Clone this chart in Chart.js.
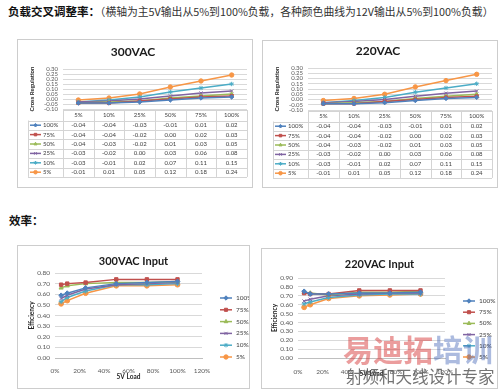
<!DOCTYPE html>
<html><head><meta charset="utf-8">
<script src="https://cdn.jsdelivr.net/npm/chart.js@4.4.0/dist/chart.umd.min.js"></script>
<style>
html,body{margin:0;padding:0;background:#fff;}
body{width:500px;height:391px;position:relative;overflow:hidden;font-family:"Noto Sans CJK SC",sans-serif;}
.box{position:absolute;border:1px solid #cdcdcd;box-sizing:border-box;background:#fff;}
.box canvas{position:absolute;left:0;top:0;}
.hdr{position:absolute;white-space:nowrap;color:#111;line-height:1;}
.wm{position:absolute;white-space:nowrap;line-height:1;z-index:5;}
</style></head><body>
<div class="hdr" style="left:8px;top:6px;font-size:10.8px;"><b style="font-size:11.5px">负载交叉调整率：</b><span style="color:#333">（横轴为主5V输出从5%到100%负载，各种颜色曲线为12V输出从5%到100%负载）</span></div>
<div class="hdr" style="left:9px;top:215px;font-size:11.5px;font-weight:bold">效率：</div>

<div class="box" style="left:17px;top:39px;width:236px;height:149px"><canvas id="c1"></canvas></div>
<div class="box" style="left:262px;top:40px;width:236px;height:148px"><canvas id="c2"></canvas></div>
<div class="box" style="left:17px;top:245px;width:233px;height:144px"><canvas id="c3"></canvas></div>
<div class="box" style="left:261px;top:248px;width:237px;height:141px"><canvas id="c4"></canvas></div>

<div class="wm" style="left:343px;top:333px;font-size:30px;font-weight:bold;"><span style="color:rgba(215,60,60,0.5)">易迪拓</span><span style="color:rgba(70,105,185,0.45)">培训</span></div>
<div class="wm" style="left:346px;top:368px;font-size:16.5px;color:rgba(90,90,90,0.85);">射频和天线设计专家</div>

<script>
// ---------- data ----------
const loadLabels = ['5%','10%','25%','50%','75%','100%'];
const seriesNames = ['100%','75%','50%','25%','10%','5%'];
const effLoadPct = [5,10,25,50,75,100];

const cr300_100 = [-0.04,-0.04,-0.03,-0.01,0.01,0.02];
const cr300_75  = [-0.04,-0.04,-0.02,0.00,0.02,0.03];
const cr300_50  = [-0.04,-0.03,-0.02,0.01,0.03,0.05];
const cr300_25  = [-0.03,-0.02,0.00,0.03,0.06,0.08];
const cr300_10  = [-0.03,-0.01,0.02,0.07,0.11,0.15];
const cr300_5   = [-0.01,0.01,0.05,0.12,0.18,0.24];

const cr220_100 = [-0.04,-0.04,-0.03,-0.01,0.01,0.02];
const cr220_75  = [-0.04,-0.04,-0.02,0.00,0.02,0.03];
const cr220_50  = [-0.04,-0.03,-0.02,0.01,0.03,0.05];
const cr220_25  = [-0.03,-0.02,0.00,0.03,0.06,0.08];
const cr220_10  = [-0.03,-0.01,0.02,0.07,0.11,0.15];
const cr220_5   = [-0.01,0.01,0.05,0.12,0.18,0.24];

const eff300_100 = [0.59,0.61,0.66,0.70,0.71,0.72];
const eff300_75  = [0.69,0.70,0.71,0.74,0.74,0.74];
const eff300_50  = [0.66,0.68,0.70,0.71,0.71,0.72];
const eff300_25  = [0.56,0.59,0.65,0.69,0.70,0.71];
const eff300_10  = [0.53,0.57,0.63,0.69,0.69,0.70];
const eff300_5   = [0.51,0.54,0.61,0.68,0.68,0.69];

const eff220_100 = [0.75,0.72,0.72,0.73,0.73,0.74];
const eff220_75  = [0.73,0.72,0.72,0.76,0.76,0.76];
const eff220_50  = [0.74,0.73,0.71,0.74,0.74,0.75];
const eff220_25  = [0.64,0.66,0.70,0.72,0.73,0.73];
const eff220_10  = [0.61,0.63,0.68,0.71,0.72,0.72];
const eff220_5   = [0.57,0.60,0.67,0.70,0.71,0.72];

// ---------- styles ----------
const seriesColors = ['#4F81BD','#C0504D','#9BBB59','#8064A2','#4BACC6','#F79646'];
const seriesMarkers = ['rectRot','rect','triangle','crossRot','star','circle'];

Chart.defaults.font.family = 'Lato, "Liberation Sans", sans-serif';
Chart.defaults.color = '#595959';

const fmt = v => (Math.abs(v) < 1e-9 ? 0 : v).toFixed(2);

function mkDataset(i, data, r) {
  const c = seriesColors[i];
  return {label: seriesNames[i], data, borderColor: c, backgroundColor: c,
    pointStyle: seriesMarkers[i], pointRadius: r, pointBorderColor: c, pointBackgroundColor: c,
    pointBorderWidth: 1, borderWidth: 1.5, tension: 0};
}

function drawKey(ctx, d, x0, len, y, r) {
  ctx.save();
  ctx.strokeStyle = d.borderColor; ctx.lineWidth = 1.5;
  ctx.beginPath(); ctx.moveTo(x0, y); ctx.lineTo(x0 + len, y); ctx.stroke();
  ctx.fillStyle = d.borderColor; ctx.strokeStyle = d.borderColor; ctx.lineWidth = 1;
  Chart.helpers.drawPoint(ctx, {pointStyle: d.pointStyle, radius: r, rotation: 0, borderWidth: 1}, x0 + len / 2, y);
  ctx.restore();
}

const tablePlugin = {
  id: 'dataTable',
  afterDraw(chart, args, o) {
    const ctx = chart.ctx, xs = chart.scales.x, ca = chart.chartArea;
    const labels = chart.data.labels, ds = chart.data.datasets;
    const n = labels.length, colW = (ca.right - ca.left) / n;
    const top = o.top, bottom = o.top + o.headH + o.rowH * ds.length;
    ctx.save();
    ctx.strokeStyle = '#d4d4d4'; ctx.lineWidth = 1;
    ctx.beginPath();
    for (let i = 0; i <= n; i++) { const x = Math.round(ca.left + i * colW) + 0.5; ctx.moveTo(x, top); ctx.lineTo(x, bottom); }
    const lx = Math.round(o.left) + 0.5;
    ctx.moveTo(lx, top + o.headH); ctx.lineTo(lx, bottom);
    const ty = Math.round(top) + 0.5; ctx.moveTo(ca.left, ty); ctx.lineTo(ca.right, ty);
    for (let r = 0; r <= ds.length; r++) { const y = Math.round(top + o.headH + r * o.rowH) + 0.5; ctx.moveTo(o.left, y); ctx.lineTo(ca.right, y); }
    ctx.stroke();
    ctx.font = '6px Lato, "Liberation Sans", sans-serif';
    ctx.fillStyle = '#404040'; ctx.textAlign = 'center'; ctx.textBaseline = 'middle';
    labels.forEach((l, i) => ctx.fillText(l, xs.getPixelForValue(i), top + o.headH / 2));
    ds.forEach((d, r) => {
      const yc = top + o.headH + r * o.rowH + o.rowH / 2;
      ctx.fillStyle = '#404040'; ctx.textAlign = 'center';
      d.data.forEach((v, i) => ctx.fillText(fmt(v), xs.getPixelForValue(i), yc));
      drawKey(ctx, d, o.left + 2, 11, yc, 1.8);
      ctx.fillStyle = '#404040'; ctx.textAlign = 'left';
      ctx.fillText(d.label, o.left + 15, yc);
    });
    ctx.restore();
  }
};

const sideLegend = {
  id: 'sideLegend',
  afterDraw(chart, args, o) {
    const ctx = chart.ctx;
    ctx.save();
    chart.data.datasets.forEach((d, i) => {
      const y = o.y0 + i * o.step;
      drawKey(ctx, d, o.x, 12, y, 2.2);
      ctx.font = '6.5px Lato, "Liberation Sans", sans-serif';
      ctx.fillStyle = '#404040'; ctx.textAlign = 'left'; ctx.textBaseline = 'middle';
      ctx.fillText(d.label, o.x + 16, y);
    });
    ctx.restore();
  }
};

function crossChart(id, titleText, series, g) {
  const cv = document.getElementById(id);
  cv.width = g.W; cv.height = g.H;
  return new Chart(cv, {
    type: 'line',
    data: {labels: loadLabels, datasets: series.map((d, i) => mkDataset(i, d, 2.2))},
    options: {
      responsive: false, animation: false, events: [],
      layout: {padding: {left: 0, top: 0, right: g.W - g.right, bottom: g.H - g.bottom}},
      plugins: {
        legend: {display: false}, tooltip: {enabled: false},
        title: {display: true, text: titleText, color: '#1a1a1a', font: {size: 12, weight: 'bold'},
          padding: {top: g.titleY - 7.2, bottom: g.top - g.titleY - 7.2}},
        dataTable: {top: g.tTop, headH: g.headH, rowH: g.rowH, left: g.tLeft}
      },
      scales: {
        x: {display: false, offset: true},
        y: {min: -0.1, max: 0.3, afterFit(s) { s.width = g.left; },
          border: {display: false}, grid: {color: '#d9d9d9', drawTicks: false},
          ticks: {stepSize: 0.05, autoSkip: false, padding: 5, font: {size: 6}, callback: v => fmt(v)},
          title: {display: true, text: 'Cross Regulation', color: '#262626', font: {size: 6, weight: 'bold'},
            padding: {top: g.yTitleX - 3.6, bottom: 0}}}
      }
    },
    plugins: [tablePlugin]
  });
}

function effChart(id, titleText, series, yMax, g) {
  const cv = document.getElementById(id);
  cv.width = g.W; cv.height = g.H;
  return new Chart(cv, {
    type: 'line',
    data: {datasets: series.map((d, i) => mkDataset(i, effLoadPct.map((x, j) => ({x, y: d[j]})), 2.4))},
    options: {
      responsive: false, animation: false, events: [],
      layout: {padding: 0},
      plugins: {
        legend: {display: false}, tooltip: {enabled: false},
        title: {display: true, text: titleText, color: '#1a1a1a', font: {size: 11, weight: 'bold'},
          padding: {top: g.titleY - 6.6, bottom: g.top - g.titleY - 6.6}},
        sideLegend: {x: g.legX, y0: g.legY0, step: g.legStep}
      },
      scales: {
        x: {type: 'linear', min: 0, max: 120, afterFit(s) { s.height = g.H - g.bottom; },
          grid: {display: false}, border: {color: '#bfbfbf'},
          ticks: {stepSize: 20, autoSkip: false, maxRotation: 0, padding: g.xTickPad, font: {size: 6.5}, callback: v => v + '%'},
          title: {display: true, text: '5V Load', color: '#262626', font: {size: 6.5, weight: 'bold'},
            padding: {top: 0, bottom: g.xTitlePad}}},
        y: {min: 0, max: yMax, afterFit(s) { s.width = g.left; },
          border: {display: false}, grid: {color: '#d9d9d9', drawTicks: false},
          ticks: {stepSize: 0.1, autoSkip: false, padding: 5, font: {size: 6.5}, callback: v => fmt(v)},
          title: {display: true, text: 'Efficiency', color: '#262626', font: {size: 6.5, weight: 'bold'},
            padding: {top: g.yTitleX - 3.9, bottom: 0}}},
        legendSpace: {type: 'linear', position: 'right', min: 0, max: 1,
          afterFit(s) { s.width = g.W - g.right; },
          grid: {display: false, drawOnChartArea: false}, border: {display: false}, ticks: {display: false}}
      }
    },
    plugins: [sideLegend]
  });
}

crossChart('c1', '300VAC', [cr300_100, cr300_75, cr300_50, cr300_25, cr300_10, cr300_5],
  {W: 234, H: 147, titleY: 12.5, top: 29, bottom: 69, left: 45, right: 230,
   tTop: 70, headH: 10.5, rowH: 9.4, tLeft: 10, yTitleX: 14});
crossChart('c2', '220VAC', [cr220_100, cr220_75, cr220_50, cr220_25, cr220_10, cr220_5],
  {W: 234, H: 146, titleY: 10.5, top: 27, bottom: 69, left: 45, right: 230,
   tTop: 70, headH: 10.5, rowH: 9.4, tLeft: 10, yTitleX: 14});
effChart('c3', '300VAC Input', [eff300_100, eff300_75, eff300_50, eff300_25, eff300_10, eff300_5], 0.8,
  {W: 231, H: 142, titleY: 15, top: 27, bottom: 112, left: 37, right: 184,
   xTickPad: 1.5, xTitlePad: 7, yTitleX: 14, legX: 202, legY0: 52, legStep: 11.8});
effChart('c4', '220VAC Input', [eff220_100, eff220_75, eff220_50, eff220_25, eff220_10, eff220_5], 0.9,
  {W: 235, H: 139, titleY: 15, top: 29, bottom: 109, left: 36, right: 183,
   xTickPad: 2, xTitlePad: 10, yTitleX: 13, legX: 201, legY0: 52, legStep: 11.2});
</script>
</body></html>
